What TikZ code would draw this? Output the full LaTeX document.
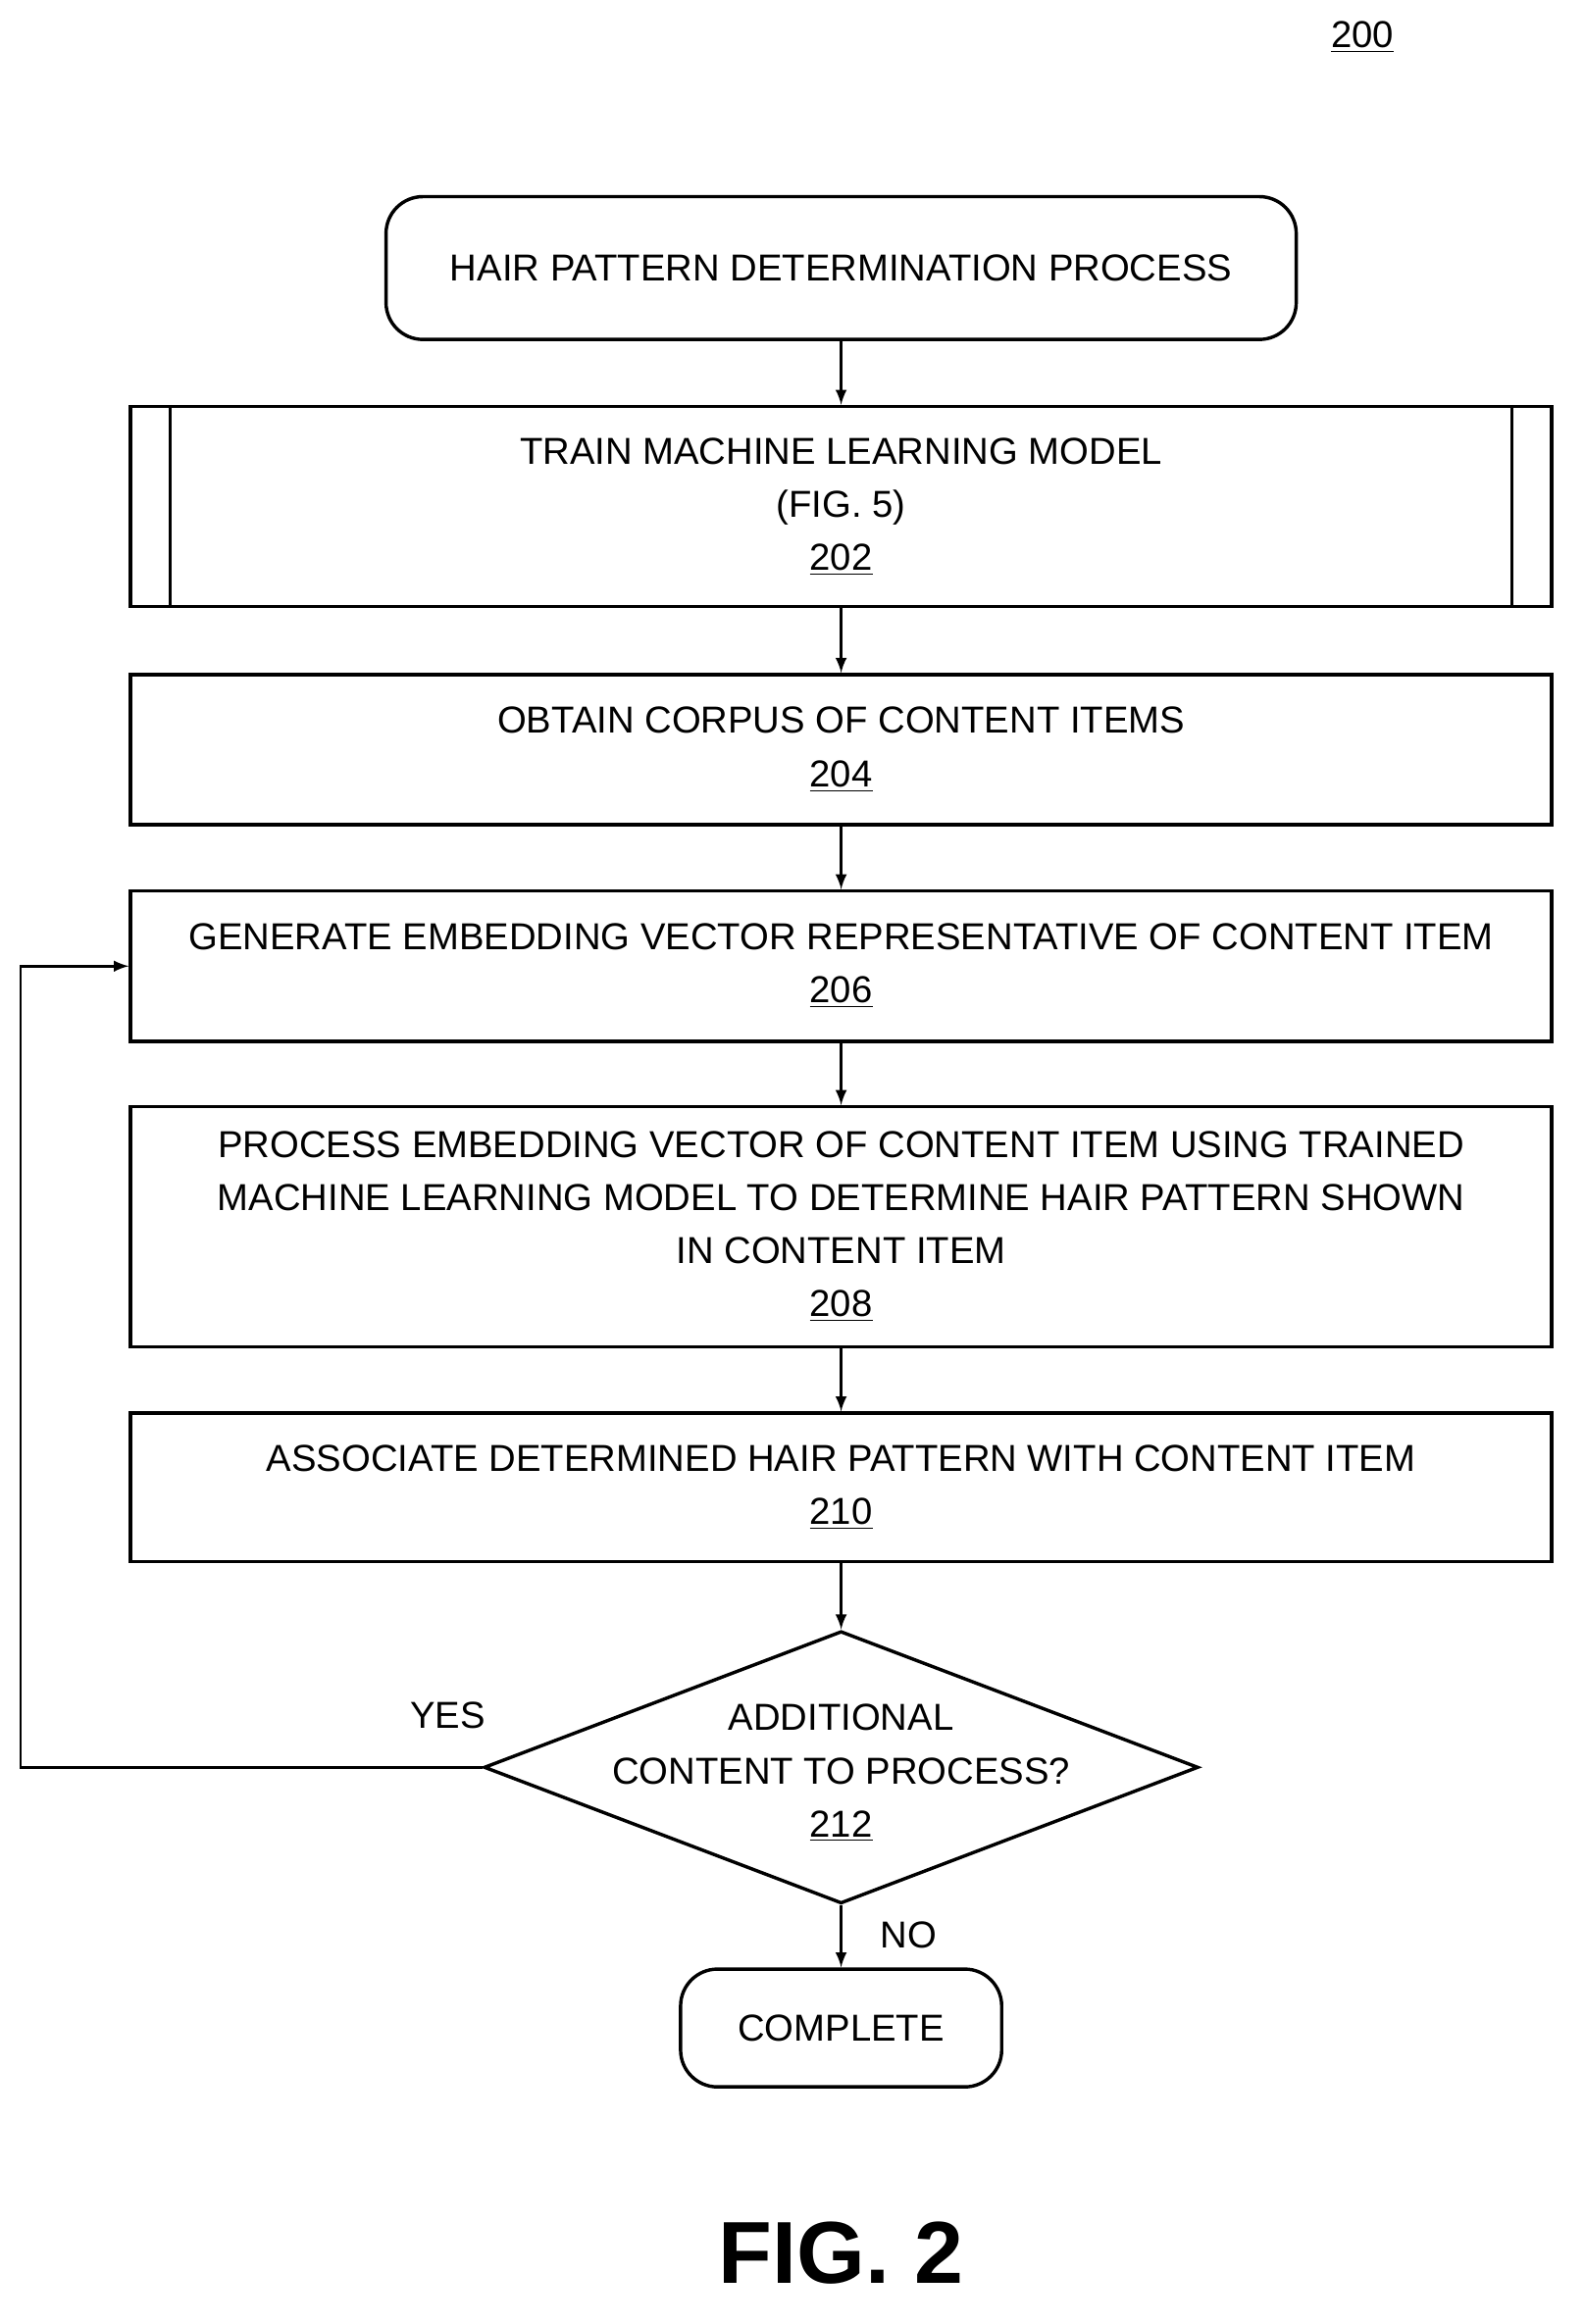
\documentclass[tikz,border=0pt]{standalone}
\usepackage{fontspec}
\setmainfont{Liberation Sans}
\usetikzlibrary{positioning,shapes.geometric}

\begin{document}
\begin{tikzpicture}[
      x=0.02cm,y=-0.02cm,
      box/.style={draw,line width=1.3pt,minimum width=19.3cm,align=center,
        font=\fontsize{14.5}{20.5}\selectfont},
      term/.style={box,rounded corners=0.5cm,minimum width=0,minimum height=1.94cm},
      flow/.style={->,line width=1pt,>=latex},
      lbl/.style={font=\fontsize{14.5}{17}\selectfont},
      ]
      \useasboundingbox (0,0) rectangle (1075,1578);
      \def\cx{571}
      \node[lbl] (num) at (925,25) {\underline{200}};
      \node[term,minimum width=12.36cm] (start) at (\cx,182) {HAIR PATTERN DETERMINATION PROCESS};
      \node[box,minimum height=2.72cm] (train) at (\cx,344) {TRAIN MACHINE LEARNING MODEL\\(FIG. 5)\\\underline{202}};
      \draw[line width=1pt] ([xshift=0.56cm]train.north west) -- ([xshift=0.56cm]train.south west);
      \draw[line width=1pt] ([xshift=-0.56cm]train.north east) -- ([xshift=-0.56cm]train.south east);
      \node[box,minimum height=2.04cm] (corpus) at (\cx,509) {OBTAIN CORPUS OF CONTENT ITEMS\\\underline{204}};
      \node[box,minimum height=2.04cm] (embed) at (\cx,656) {GENERATE EMBEDDING VECTOR REPRESENTATIVE OF CONTENT ITEM\\\underline{206}};
      \node[box,minimum height=3.26cm] (proc) at (\cx,833) {PROCESS EMBEDDING VECTOR OF CONTENT ITEM USING TRAINED\\MACHINE LEARNING MODEL TO DETERMINE HAIR PATTERN SHOWN\\IN CONTENT ITEM\\\underline{208}};
      \node[box,minimum height=2.02cm] (assoc) at (\cx,1010) {ASSOCIATE DETERMINED HAIR PATTERN WITH CONTENT ITEM\\\underline{210}};
      \node[box,diamond,minimum width=9.7cm,minimum height=3.7cm,aspect=2.6,inner sep=0pt] (more) at (\cx,1200) {};
      \node[lbl,align=center,font=\fontsize{14.5}{20.5}\selectfont] (moretxt) at (\cx,1204) {ADDITIONAL\\CONTENT TO PROCESS?\\\underline{212}};
      \node[term,minimum width=4.36cm,minimum height=1.6cm] (done) at (\cx,1377) {COMPLETE};
      \node[lbl] (yes) at (304,1165) {YES};
      \node[lbl] (no) at (617,1314) {NO};
      \node[font=\fontsize{34}{38}\selectfont\bfseries] (fig) at (\cx,1530) {FIG. 2};
      \coordinate (loopd) at (14,1200);
      \coordinate (loopu) at (14,656);

      \draw[flow] (start) -- (train);
      \draw[flow] (train) -- (corpus);
      \draw[flow] (corpus) -- (embed);
      \draw[flow] (embed) -- (proc);
      \draw[flow] (proc) -- (assoc);
      \draw[flow] (assoc) -- (more);
      \draw[flow] (more) -- (done);
      \draw[flow] (more.west) -- (loopd) -- (loopu) -- (embed.west);
    \end{tikzpicture}
\end{document}
